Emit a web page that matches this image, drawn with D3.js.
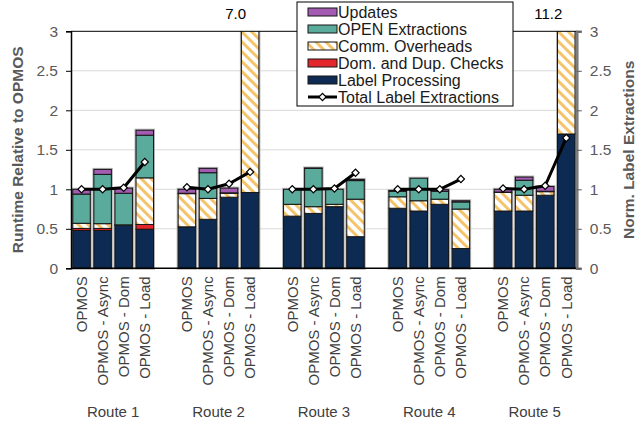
<!DOCTYPE html>
<html>
<head>
<meta charset="utf-8">
<script src="https://cdn.jsdelivr.net/npm/d3@7"></script>
<style>
  body { margin: 0; background: #fff; }
  svg { display: block; font-family: "Liberation Sans", Arial, sans-serif; }
</style>
</head>
<body>
<svg id="chart" width="637" height="427"></svg>
<script>
// Categories
const routes = ["Route 1", "Route 2", "Route 3", "Route 4", "Route 5"];
const variants = ["OPMOS", "OPMOS - Async", "OPMOS - Dom", "OPMOS - Load"];

// Runtime components relative to OPMOS, one row per route, one value per variant
const labelProcessing = [
  [0.48, 0.48, 0.545, 0.495],
  [0.525, 0.62, 0.90, 0.96],
  [0.66, 0.695, 0.78, 0.40],
  [0.76, 0.725, 0.81, 0.25],
  [0.725, 0.725, 0.925, 1.70]
];
const domDupChecks = [
  [0.025, 0.025, 0, 0.06],
  [0, 0, 0, 0],
  [0, 0, 0, 0],
  [0, 0, 0, 0],
  [0, 0, 0, 0]
];
const commOverheads = [
  [0.065, 0.06, 0.005, 0.59],
  [0.42, 0.265, 0.05, 6.04],
  [0.15, 0.085, 0.03, 0.475],
  [0.145, 0.13, 0.065, 0.50],
  [0.235, 0.20, 0.045, 9.50]
];
const openExtractions = [
  [0.37, 0.624, 0.40, 0.54],
  [0.005, 0.325, 0.005, 0],
  [0.19, 0.485, 0.19, 0.235],
  [0.07, 0.285, 0.10, 0.09],
  [0.005, 0.19, 0.005, 0]
];
const updates = [
  [0.06, 0.063, 0.065, 0.063],
  [0.05, 0.055, 0.06, 0],
  [0, 0.005, 0, 0.015],
  [0.01, 0, 0.02, 0.015],
  [0.035, 0.04, 0.06, 0]
];
// Normalised number of label extractions (right axis)
const totalLabelExtractions = [
  [1.0, 1.0, 1.02, 1.345],
  [1.025, 1.0, 1.07, 1.22],
  [1.0, 1.0, 1.01, 1.21],
  [1.0, 1.0, 1.0, 1.13],
  [1.01, 1.0, 1.045, 1.65]
];
const yTicks = [0, 0.5, 1, 1.5, 2, 2.5, 3];

const seriesKeys = ["lp", "dom", "comm", "open", "upd"];
const seriesNames = {
  lp: "Label Processing",
  dom: "Dom. and Dup. Checks",
  comm: "Comm. Overheads",
  open: "OPEN Extractions",
  upd: "Updates"
};
const colors = {
  lp: "#0c2a52",
  dom: "#e3262b",
  comm: "url(#hatch)",
  open: "#5aab9b",
  upd: "#a45cb3"
};

const W = 637, H = 427;
const margin = { left: 71, right: 60.2, top: 31.3, bottom: 158.7 };
const plotL = margin.left, plotR = W - margin.right;
const plotT = margin.top, plotB = H - margin.bottom;

const svg = d3.select("#chart");

// Hatch pattern for communication overheads
const defs = svg.append("defs");
const pat = defs.append("pattern")
  .attr("id", "hatch")
  .attr("patternUnits", "userSpaceOnUse")
  .attr("width", 7).attr("height", 7)
  .attr("patternTransform", "rotate(-45)");
pat.append("rect").attr("width", 7).attr("height", 7).attr("fill", "#fff");
pat.append("rect").attr("x", 0).attr("width", 3).attr("height", 7).attr("fill", "#f4c36a");

defs.append("clipPath").attr("id", "plotClip")
  .append("rect")
  .attr("x", plotL - 5).attr("y", plotT)
  .attr("width", plotR - plotL + 10).attr("height", plotB - plotT + 5);

// Table of bars
const rows = [];
routes.forEach((r, i) => {
  variants.forEach((v, j) => {
    rows.push({
      key: r + "|" + v, route: r, variant: v, ri: i, vi: j,
      lp: labelProcessing[i][j],
      dom: domDupChecks[i][j],
      comm: commOverheads[i][j],
      open: openExtractions[i][j],
      upd: updates[i][j],
      ext: totalLabelExtractions[i][j]
    });
  });
});
rows.forEach(d => { d.total = seriesKeys.reduce((s, k) => s + d[k], 0); });

// Slot sequence: four bars per route with an empty slot between routes
const slots = [];
routes.forEach((r, i) => {
  variants.forEach(v => slots.push(r + "|" + v));
  if (i < routes.length - 1) slots.push("gap" + i);
});

const x = d3.scaleBand().domain(slots).range([plotL, plotR])
  .paddingInner(0.17).paddingOuter(0.085);
const y = d3.scaleLinear().domain([0, 3]).range([plotB, plotT]);
const yR = d3.scaleLinear().domain([0, 3]).range([plotB, plotT]);
const cx = k => x(k) + x.bandwidth() / 2;

// Gridlines
svg.append("g").selectAll("line")
  .data(yTicks.filter(t => t > 0 && t < 3))
  .join("line")
  .attr("x1", plotL).attr("x2", plotR)
  .attr("y1", d => y(d)).attr("y2", d => y(d))
  .attr("stroke", "#d9d9d9").attr("stroke-width", 1);

// Stacked bars
const stacked = d3.stack().keys(seriesKeys)(rows);
const barsG = svg.append("g").attr("clip-path", "url(#plotClip)");

// light outline behind each bar
barsG.append("g").selectAll("rect")
  .data(rows)
  .join("rect")
  .attr("x", d => x(d.key))
  .attr("width", x.bandwidth())
  .attr("y", d => y(Math.min(d.total, 3.2)))
  .attr("height", d => y(0) - y(Math.min(d.total, 3.2)))
  .attr("fill", "none")
  .attr("stroke", "#b4b4b4")
  .attr("stroke-width", 3);

barsG.selectAll("g.layer")
  .data(stacked)
  .join("g")
  .attr("class", "layer")
  .attr("fill", s => colors[s.key])
  .selectAll("rect")
  .data(s => s.filter(p => p[1] - p[0] > 0))
  .join("rect")
  .attr("x", p => x(p.data.key))
  .attr("width", x.bandwidth())
  .attr("y", p => y(Math.min(p[1], 3.2)))
  .attr("height", p => y(Math.min(p[0], 3.2)) - y(Math.min(p[1], 3.2)))
  .attr("stroke", "#141414")
  .attr("stroke-width", 1);

// Value labels for bars exceeding the axis range
svg.append("g").selectAll("text")
  .data(rows.filter(d => d.total > 3))
  .join("text")
  .attr("x", d => cx(d.key) - 4)
  .attr("y", 19)
  .attr("text-anchor", "end")
  .attr("font-size", 15)
  .attr("fill", "#000")
  .text(d => d3.format(".1f")(d.total));

// Axes frame
svg.append("line").attr("x1", plotL).attr("x2", plotR)
  .attr("y1", plotT).attr("y2", plotT)
  .attr("stroke", "#000").attr("stroke-width", 1);
svg.append("line").attr("x1", plotL).attr("x2", plotR)
  .attr("y1", plotB).attr("y2", plotB)
  .attr("stroke", "#000").attr("stroke-width", 1.5);

const axL = svg.append("g").attr("transform", `translate(${plotL},0)`)
  .call(d3.axisLeft(y).tickValues(yTicks).tickSize(5).tickPadding(8)
    .tickFormat(d3.format("~g")));
axL.select(".domain").attr("stroke", "#000").attr("stroke-width", 1.5);
axL.selectAll(".tick line").attr("stroke", "#000");
axL.selectAll("text").attr("font-size", 15.5).attr("fill", "#595959")
  .attr("font-family", "Liberation Sans, Arial, sans-serif");

const axR = svg.append("g").attr("transform", `translate(${plotR},0)`)
  .call(d3.axisRight(yR).tickValues(yTicks).tickSize(5).tickPadding(8)
    .tickFormat(d3.format("~g")));
axR.select(".domain").attr("stroke", "#7a7a7a").attr("stroke-width", 2.5);
axR.selectAll(".tick line").attr("stroke", "#595959");
axR.selectAll("text").attr("font-size", 15.5).attr("fill", "#595959")
  .attr("font-family", "Liberation Sans, Arial, sans-serif");

// Total label extraction lines, one per route
const line = d3.line().x(d => cx(d.key)).y(d => yR(d.ext));
const linesG = svg.append("g");
routes.forEach(r => {
  const pts = rows.filter(d => d.route === r);
  linesG.append("path").datum(pts)
    .attr("d", line)
    .attr("fill", "none")
    .attr("stroke", "#000")
    .attr("stroke-width", 3)
    .attr("stroke-linejoin", "round");
});
// square-diamond markers
const marker = d3.symbol().type(d3.symbolSquare).size(26);
linesG.selectAll("path.marker")
  .data(rows)
  .join("path")
  .attr("class", "marker")
  .attr("d", marker)
  .attr("transform", d => `translate(${cx(d.key)},${yR(d.ext)}) rotate(45)`)
  .attr("fill", "#fff")
  .attr("stroke", "#000")
  .attr("stroke-width", 1.2);

// Variant labels
svg.append("g").selectAll("text")
  .data(rows)
  .join("text")
  .attr("transform", d => `translate(${cx(d.key)},${plotB + 8}) rotate(-90)`)
  .attr("text-anchor", "end")
  .attr("dy", "0.35em")
  .attr("font-size", 15)
  .attr("fill", "#404040")
  .text(d => d.variant);

// Route labels
svg.append("g").selectAll("text")
  .data(routes)
  .join("text")
  .attr("x", r => (cx(r + "|" + variants[0]) + cx(r + "|" + variants[3])) / 2)
  .attr("y", 417)
  .attr("text-anchor", "middle")
  .attr("font-size", 15)
  .attr("fill", "#404040")
  .text(r => r);

// Axis titles
svg.append("text")
  .attr("transform", `translate(23,${(plotT + plotB) / 2}) rotate(-90)`)
  .attr("text-anchor", "middle")
  .attr("font-size", 15.5)
  .attr("font-weight", "bold")
  .attr("fill", "#595959")
  .text("Runtime Relative to OPMOS");
svg.append("text")
  .attr("transform", `translate(634,${(plotT + plotB) / 2}) rotate(-90)`)
  .attr("text-anchor", "middle")
  .attr("font-size", 15.5)
  .attr("font-weight", "bold")
  .attr("fill", "#595959")
  .text("Norm. Label Extractions");

// Legend
const legendItems = ["upd", "open", "comm", "dom", "lp", "line"];
const lg = svg.append("g").attr("transform", "translate(297,2)");
lg.append("rect").attr("width", 216).attr("height", 104)
  .attr("fill", "#fff").attr("stroke", "#000").attr("stroke-width", 1);
const li = lg.selectAll("g.item").data(legendItems).join("g")
  .attr("class", "item")
  .attr("transform", (d, i) => `translate(11,${10 + i * 17})`);
li.filter(d => d !== "line").append("rect")
  .attr("x", 0).attr("y", -4).attr("width", 29).attr("height", 8)
  .attr("fill", d => colors[d]).attr("stroke", "#141414").attr("stroke-width", 1);
const ll = li.filter(d => d === "line");
ll.append("line").attr("x1", 0).attr("x2", 29).attr("y1", 0).attr("y2", 0)
  .attr("stroke", "#000").attr("stroke-width", 3);
ll.append("path").attr("d", marker).attr("transform", "translate(14.5,0) rotate(45)")
  .attr("fill", "#fff").attr("stroke", "#000").attr("stroke-width", 1.2);
li.append("text")
  .attr("x", 30).attr("dy", "0.35em")
  .attr("font-size", 16).attr("fill", "#1a1a1a")
  .text(d => d === "line" ? "Total Label Extractions" : seriesNames[d]);
</script>
</body>
</html>
